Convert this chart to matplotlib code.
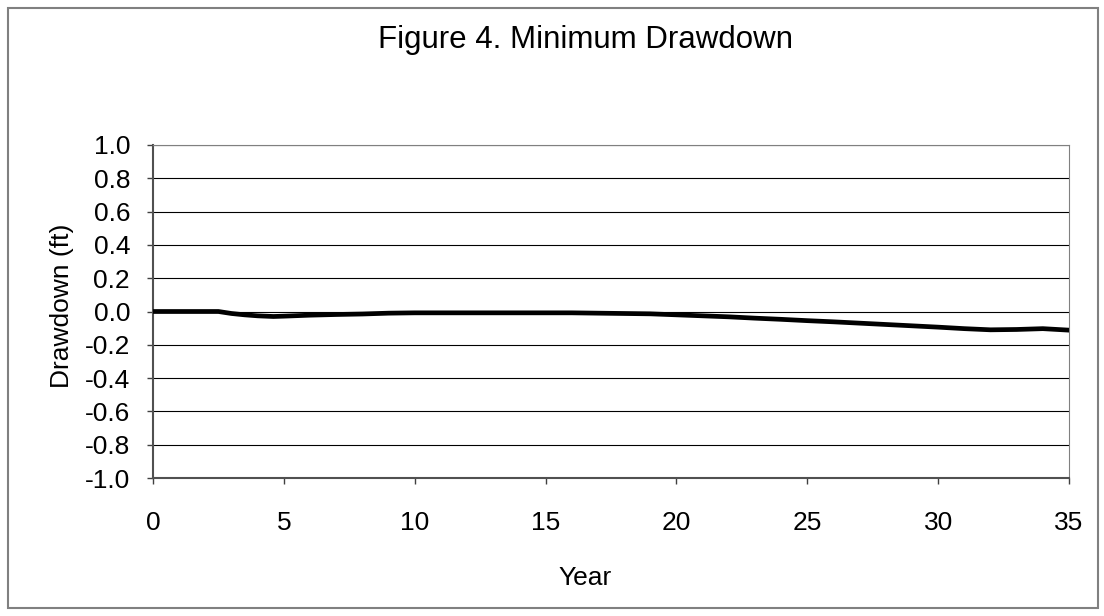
import matplotlib.pyplot as plt
from matplotlib.patches import Rectangle

plt.rcParams['font.family'] = ['Liberation Sans', 'DejaVu Sans']

# values
years = [0, 1, 2, 2.5, 3, 3.5, 4, 4.6, 5, 6, 7, 8, 9, 10, 11, 12, 13, 14, 15, 16,
         17, 18, 19, 20, 21, 22, 23, 24, 25, 26, 27, 28, 29, 30, 31, 32, 33, 34, 35]
drawdown = [0.0, 0.0, 0.0, 0.0, -0.012, -0.02, -0.026, -0.03, -0.028, -0.022, -0.018,
            -0.015, -0.01, -0.008, -0.008, -0.008, -0.008, -0.008, -0.008, -0.008,
            -0.01, -0.012, -0.014, -0.02, -0.026, -0.032, -0.04, -0.047, -0.055,
            -0.062, -0.07, -0.078, -0.086, -0.094, -0.103, -0.11, -0.108, -0.103, -0.112]
y_ticks = [-1.0, -0.8, -0.6, -0.4, -0.2, 0.0, 0.2, 0.4, 0.6, 0.8, 1.0]
x_ticks = [0, 5, 10, 15, 20, 25, 30, 35]

W, H = 1104, 616
fig = plt.figure(figsize=(W / 100, H / 100), dpi=100)
fig.patches.append(Rectangle((8 / W, 8 / H), 1090 / W, 600 / H,
                             transform=fig.transFigure, fill=False,
                             edgecolor='#808080', linewidth=1.5))

ax = fig.add_axes([153 / W, 1 - 478 / H, 916 / W, 333 / H])
ax.plot(years, drawdown, color='black', linewidth=3.4, solid_capstyle='round',
        zorder=3)

ax.set_xlim(0, 35)
ax.set_ylim(-1.0, 1.0)
ax.set_xticks(x_ticks)
ax.set_yticks(y_ticks)
ax.set_yticklabels([f'{v:.1f}' for v in y_ticks])
ax.yaxis.grid(True, color='black', linewidth=0.8)
ax.set_axisbelow(True)

ax.spines['top'].set_color('#808080')
ax.spines['right'].set_color('#808080')
ax.spines['left'].set_color('#505050')
ax.spines['bottom'].set_color('#505050')
ax.spines['left'].set_linewidth(1.5)
ax.spines['bottom'].set_linewidth(1.5)
ax.tick_params(axis='both', direction='out', length=4.5, width=1, color='#404040',
               labelsize=19)
ax.tick_params(axis='x', pad=19)
ax.tick_params(axis='y', pad=12)

fig.text(585 / W, 1 - 578 / H, 'Year', fontsize=19, ha='center', va='center')
fig.text(62 / W, 1 - 306 / H, 'Drawdown (ft)', fontsize=19, rotation=90,
         ha='center', va='center')
fig.text(586 / W, 1 - 40 / H, 'Figure 4. Minimum Drawdown', fontsize=22.5,
         ha='center', va='center')

fig.savefig('out.png', dpi=100)
